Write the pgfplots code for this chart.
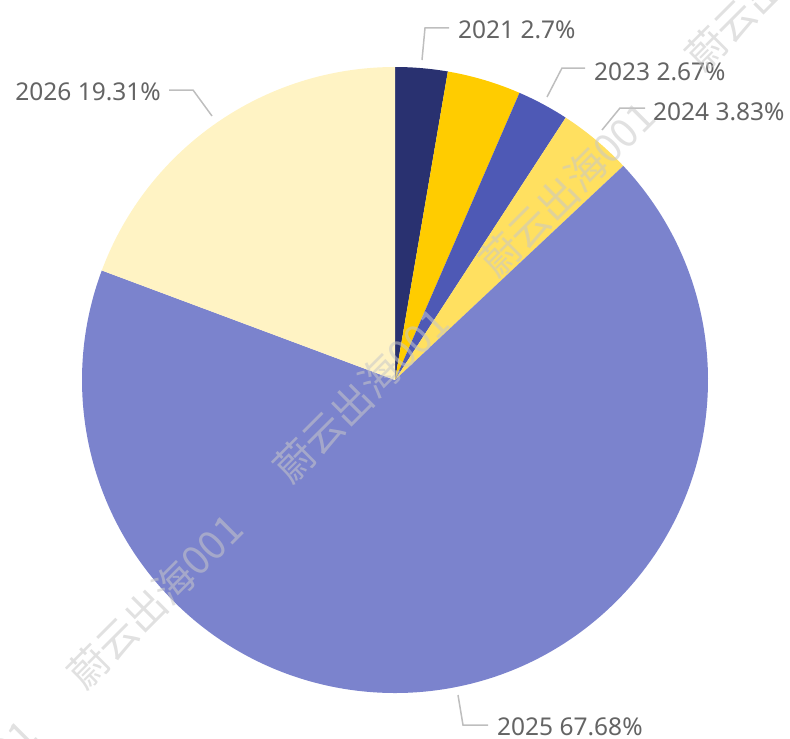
\documentclass[border=0pt]{standalone}
\usepackage{pgfplots}
\usepackage{pgfplotstable}
\pgfplotsset{compat=1.18}
\usepackage{fontspec}
\newfontfamily\lab{Noto Sans}
\newfontfamily\cjk{Noto Sans CJK SC}

\definecolor{pie0}{RGB}{41,49,112}
\definecolor{pie1}{RGB}{255,204,0}
\definecolor{pie2}{RGB}{78,89,181}
\definecolor{pie3}{RGB}{255,224,96}
\definecolor{pie4}{RGB}{123,131,205}
\definecolor{pie5}{RGB}{255,243,196}
\definecolor{labtext}{RGB}{100,100,100}
\definecolor{leader}{RGB}{190,190,190}
\definecolor{wm}{RGB}{200,200,200}

% share of each year, in per cent (2022 has no label in the chart)
\pgfplotstableread{
year pct
2021 2.70
2022 3.81
2023 2.67
2024 3.83
2025 67.68
2026 19.31
}\piedata

\begin{document}
\begin{tikzpicture}
% start at the top and go clockwise
\xdef\cumangle{90}
\pgfplotsforeachungrouped \i in {0,...,5}{%
  \pgfplotstablegetelem{\i}{pct}\of\piedata
  \pgfmathsetmacro\endang{\cumangle-3.6*\pgfplotsretval}%
  \expandafter\xdef\csname sa\i\endcsname{\cumangle}%
  \expandafter\xdef\csname ea\i\endcsname{\endang}%
  \xdef\cumangle{\endang}%
}
\begin{axis}[
    hide axis,
    scale only axis,
    width=790bp, height=738bp,
    xmin=0, xmax=790, ymin=0, ymax=738,
    y dir=reverse,
    clip=false,
]
\coordinate (bl) at (axis cs:0,738);
\coordinate (tr) at (axis cs:790,0);
\pgfplotsinvokeforeach{0,...,5}{
  \fill[pie#1] (axis cs:395,380) -- ++(\csname sa#1\endcsname:313bp)
     arc[start angle=\csname sa#1\endcsname, end angle=\csname ea#1\endcsname, radius=313bp] -- cycle;
}

% leader lines
\draw[leader, line width=1.5bp] (axis cs:422,60) -- (axis cs:425,28) -- (axis cs:449,28);
\draw[leader, line width=1.5bp] (axis cs:547,97) -- (axis cs:562,68) -- (axis cs:585,68);
\draw[leader, line width=1.5bp] (axis cs:602,130) -- (axis cs:620,108) -- (axis cs:645,108);
\draw[leader, line width=1.5bp] (axis cs:212,116) -- (axis cs:193,90) -- (axis cs:169,90);
\draw[leader, line width=1.5bp] (axis cs:458,695) -- (axis cs:463,725) -- (axis cs:488,725);

% labels
\tikzset{lbl/.style={inner sep=0pt, text=labtext, font=\lab\fontsize{24.5bp}{28bp}\selectfont}}
\node[lbl, anchor=base west] at (axis cs:458,38) {2021 2.7\%};
\node[lbl, anchor=base west] at (axis cs:594,80) {2023 2.67\%};
\node[lbl, anchor=base west] at (axis cs:653,120) {2024 3.83\%};
\node[lbl, anchor=base east] at (axis cs:161,100) {2026 19.31\%};
\node[lbl, anchor=base west] at (axis cs:497,735) {2025 67.68\%};

% watermark
\tikzset{wmk/.style={rotate=45, inner sep=0pt, text=wm, opacity=0.55, font=\cjk\fontsize{40bp}{40bp}\selectfont}}
\node[wmk] at (axis cs:-51,807) {蔚云出海001};
\node[wmk] at (axis cs:155,601) {蔚云出海001};
\node[wmk] at (axis cs:361,395) {蔚云出海001};
\node[wmk] at (axis cs:567,189) {蔚云出海001};
\node[wmk] at (axis cs:773,-17) {蔚云出海001};
\end{axis}
\pgfresetboundingbox
\useasboundingbox (bl) rectangle (tr);
\end{tikzpicture}
\end{document}
